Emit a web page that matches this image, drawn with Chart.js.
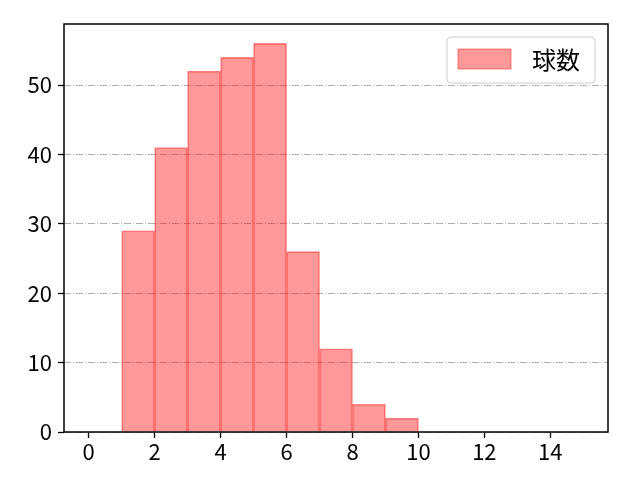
<!DOCTYPE html>
<html>
<head>
<meta charset="utf-8">
<script src="https://cdn.jsdelivr.net/npm/chart.js@4/dist/chart.umd.min.js"></script>
<style>
  html, body { margin: 0; padding: 0; background: #fff; }
  canvas { display: block; }
</style>
</head>
<body>
<canvas id="chart" width="640" height="480"></canvas>
<script>
// histogram bins (left edge) and counts
const binStarts = [1, 2, 3, 4, 5, 6, 7, 8, 9];
const counts = [29, 41, 52, 54, 56, 26, 12, 4, 2];
const seriesLabel = '球数';
const xTicks = [0, 2, 4, 6, 8, 10, 12, 14];
const yTicks = [0, 10, 20, 30, 40, 50];

const FONT = '"Noto Sans CJK JP", "Noto Sans", sans-serif';
const fill = 'rgba(255, 0, 0, 0.4)';
const edge = 'rgba(255, 0, 0, 0.45)';

const frame = {
  id: 'frame',
  afterDraw(chart) {
    const { ctx, chartArea: a } = chart;
    ctx.save();
    ctx.strokeStyle = '#000';
    ctx.lineWidth = 1.5;
    ctx.strokeRect(a.left, a.top, a.right - a.left, a.bottom - a.top);

    // legend box in upper right
    const w = 148, h = 46;
    const x = a.right - 13 - w, y = a.top + 13;
    ctx.beginPath();
    ctx.roundRect(x, y, w, h, 4);
    ctx.fillStyle = 'rgba(255,255,255,0.8)';
    ctx.fill();
    ctx.strokeStyle = '#cccccc';
    ctx.lineWidth = 1;
    ctx.stroke();
    ctx.fillStyle = fill;
    ctx.fillRect(x + 11, y + 12, 53, 20);
    ctx.strokeStyle = edge;
    ctx.strokeRect(x + 11, y + 12, 53, 20);
    ctx.fillStyle = '#000';
    ctx.font = '24px ' + FONT;
    ctx.textBaseline = 'middle';
    ctx.fillText(chart.data.datasets[0].label, x + 85, y + 23);
    ctx.restore();
  }
};

new Chart(document.getElementById('chart'), {
  type: 'bar',
  data: {
    datasets: [{
      label: seriesLabel,
      data: binStarts.map((b, i) => ({ x: b + 0.5, y: counts[i] })),
      backgroundColor: fill,
      borderColor: edge,
      borderWidth: 1,
      barPercentage: 1,
      categoryPercentage: 1
    }]
  },
  options: {
    responsive: false,
    animation: false,
    layout: { padding: { left: 0, right: 32, top: 24, bottom: 0 } },
    plugins: { legend: { display: false }, tooltip: { enabled: false } },
    scales: {
      x: {
        type: 'linear',
        min: -0.75,
        max: 15.75,
        offset: false,
        afterBuildTicks: s => { s.ticks = xTicks.map(v => ({ value: v })); },
        afterFit: s => { s.height = 48; },
        grid: { offset: false, drawOnChartArea: false, drawTicks: true, tickLength: 6, tickColor: '#000', tickWidth: 1.3 },
        border: { display: false },
        ticks: { color: '#000', font: { family: FONT, size: 22 }, padding: 0, maxRotation: 0 }
      },
      y: {
        type: 'linear',
        min: 0,
        max: 58.8,
        afterBuildTicks: s => { s.ticks = yTicks.map(v => ({ value: v })); },
        afterFit: s => { s.width = 64; },
        grid: { color: '#b0b0b0', lineWidth: 1, drawTicks: true, tickLength: 6, tickColor: '#000', tickWidth: 1.3 },
        border: { display: false, dash: [7, 2, 1, 2] },
        ticks: { color: '#000', font: { family: FONT, size: 22 }, padding: 6 }
      }
    }
  },
  plugins: [frame]
});
</script>
</body>
</html>
